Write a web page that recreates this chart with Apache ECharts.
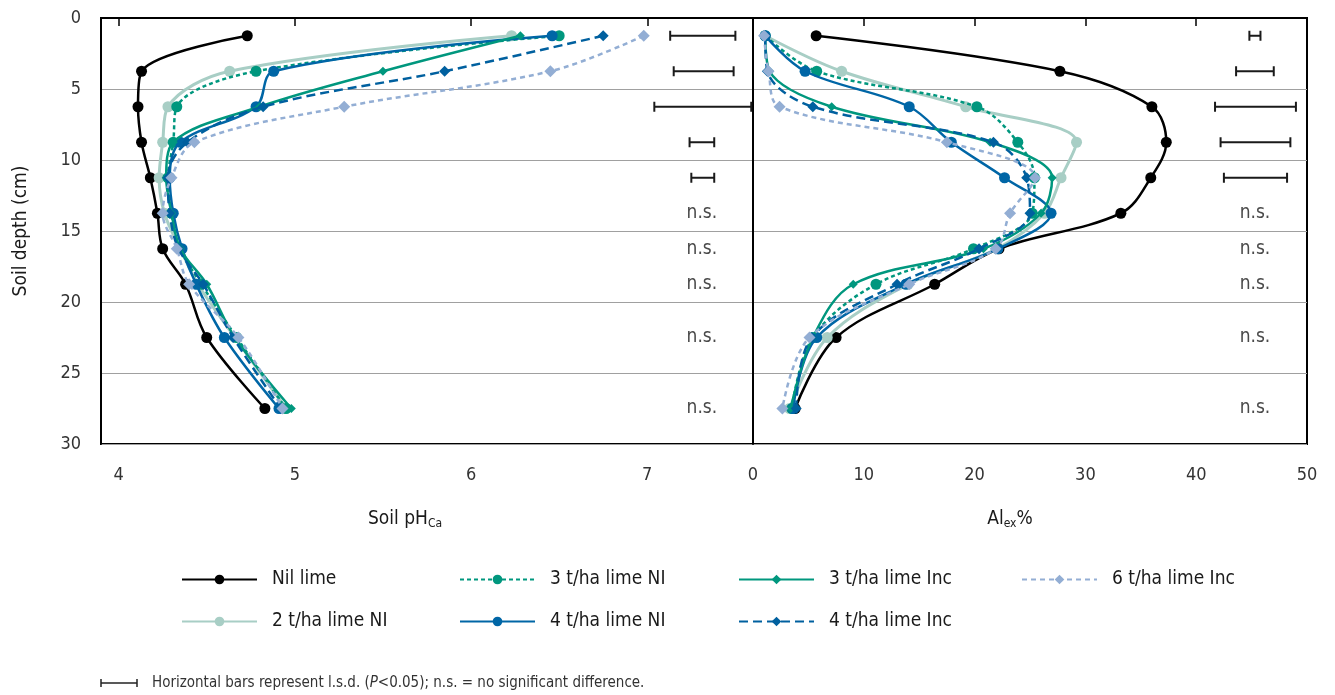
<!DOCTYPE html>
<html><head><meta charset="utf-8">
<script src="https://cdn.jsdelivr.net/npm/echarts@6/dist/echarts.min.js"></script>
<style>html,body{margin:0;padding:0;background:#fff}#c{width:1335px;height:695px}</style>
</head><body><div id="c"></div>
<script>
// ---------- DATA ----------
const depthCm = [1.25, 3.75, 6.25, 8.75, 11.25, 13.75, 16.25, 18.75, 22.5, 27.5];
const treatmentNames = ['Nil lime', '2 t/ha lime NI', '3 t/ha lime NI', '4 t/ha lime NI', '3 t/ha lime Inc', '4 t/ha lime Inc', '6 t/ha lime Inc'];

// Soil pHCa by depth
const phNil   = [4.73, 4.13, 4.11, 4.13, 4.18, 4.22, 4.25, 4.38, 4.50, 4.83];
const ph2NI   = [6.23, 4.63, 4.28, 4.25, 4.23, 4.26, 4.35, 4.45, 4.66, 4.95];
const ph3NI   = [6.50, 4.78, 4.33, 4.31, 4.28, 4.30, 4.35, 4.47, 4.67, 4.95];
const ph4NI   = [6.46, 4.88, 4.78, 4.35, 4.29, 4.31, 4.36, 4.44, 4.60, 4.91];
const ph3Inc  = [6.28, 5.50, 4.80, 4.31, 4.27, 4.30, 4.35, 4.50, 4.66, 4.98];
const ph4Inc  = [6.75, 5.85, 4.82, 4.39, 4.28, 4.29, 4.34, 4.48, 4.65, 4.92];
const ph6Inc  = [6.98, 6.45, 5.28, 4.43, 4.30, 4.25, 4.33, 4.40, 4.68, 4.93];

// Exchangeable Al % by depth
const alNil   = [5.7, 27.7, 36.0, 37.3, 35.9, 33.2, 22.2, 16.4, 7.5, 3.8];
const al2NI   = [1.1, 8.0, 19.2, 29.2, 27.8, 26.3, 22.0, 14.0, 6.7, 3.3];
const al3NI   = [1.1, 5.75, 20.2, 23.9, 25.4, 25.2, 19.9, 11.1, 5.4, 3.5];
const al4NI   = [1.1, 4.7, 14.1, 17.9, 22.7, 26.9, 22.1, 13.8, 5.75, 3.6];
const al3Inc  = [1.1, 1.5, 7.1, 21.4, 27.0, 26.0, 20.8, 9.05, 5.4, 3.4];
const al4Inc  = [1.1, 1.3, 5.4, 21.7, 24.7, 25.0, 20.4, 13.0, 5.3, 3.9];
const al6Inc  = [1.0, 1.4, 2.4, 17.5, 25.45, 23.2, 21.9, 14.1, 5.1, 2.65];

// l.s.d. bars (P<0.05)
const lsdDepth   = [1.25, 3.75, 6.25, 8.75, 11.25];
const lsdPhLeft  = [7.13, 7.15, 7.04, 7.24, 7.25];
const lsdPhRight = [7.50, 7.49, 7.59, 7.38, 7.38];
const lsdAlLeft  = [44.8, 43.6, 41.7, 42.2, 42.5];
const lsdAlRight = [45.8, 47.0, 49.0, 48.5, 48.2];
// n.s. labels
const nsDepth = [13.75, 16.25, 18.75, 22.5, 27.5];
const nsPhX = [7.31, 7.31, 7.31, 7.31, 7.31];
const nsAlX = [45.3, 45.3, 45.3, 45.3, 45.3];

const phTickValues = [4, 5, 6, 7];

const phData = [phNil, ph2NI, ph3NI, ph4NI, ph3Inc, ph4Inc, ph6Inc];
const alData = [alNil, al2NI, al3NI, al4NI, al3Inc, al4Inc, al6Inc];

// ---------- STYLE ----------
const FONT = "'Liberation Sans Narrow', 'DejaVu Sans Condensed', 'Arial Narrow', 'Roboto', sans-serif";
const seriesStyle = [
  {color: '#000000', symbol: 'circle',  size: 11, dash: 'solid', width: 2.5},
  {color: '#A8CEC5', symbol: 'circle',  size: 11, dash: 'solid', width: 3},
  {color: '#00977E', symbol: 'circle',  size: 11, dash: [4, 3],  width: 2.5},
  {color: '#0066A6', symbol: 'circle',  size: 11, dash: 'solid', width: 2.5},
  {color: '#00977E', symbol: 'diamond', size: 9,  dash: 'solid', width: 2.5},
  {color: '#00609F', symbol: 'diamond', size: 11, dash: [9, 5],  width: 2.5},
  {color: '#93AED4', symbol: 'diamond', size: 12, dash: [5, 4],  width: 2.5}
];
const legendPos = [[181, 570], [181, 612], [459, 570], [459, 612], [738, 570], [738, 612], [1021, 570]];

function lineSeries(values, idx, gridIdx) {
  const s = seriesStyle[idx];
  return {
    type: 'line', name: treatmentNames[idx],
    xAxisIndex: gridIdx, yAxisIndex: gridIdx,
    data: values.map((v, i) => [v, depthCm[i]]),
    smooth: 0.35,
    symbol: s.symbol, symbolSize: s.size,
    lineStyle: {color: s.color, width: s.width, type: s.dash},
    itemStyle: {color: s.color, borderWidth: 0},
    emphasis: {disabled: true},
    z: 3 + idx
  };
}

function lsdSeries(lefts, rights, gridIdx) {
  return {
    type: 'custom', xAxisIndex: gridIdx, yAxisIndex: gridIdx, silent: true,
    data: lsdDepth.map((d, i) => [lefts[i], rights[i], d]),
    encode: {x: [0, 1], y: 2},
    renderItem: (params, api) => {
      const a = api.coord([api.value(0), api.value(2)]);
      const b = api.coord([api.value(1), api.value(2)]);
      const h = 5, st = {stroke: '#1a1a1a', lineWidth: 2};
      return {type: 'group', children: [
        {type: 'line', shape: {x1: a[0], y1: a[1], x2: b[0], y2: b[1]}, style: st},
        {type: 'line', shape: {x1: a[0], y1: a[1] - h, x2: a[0], y2: a[1] + h}, style: st},
        {type: 'line', shape: {x1: b[0], y1: b[1] - h, x2: b[0], y2: b[1] + h}, style: st}
      ]};
    }
  };
}
function nsSeries(xs, gridIdx) {
  return {
    type: 'custom', xAxisIndex: gridIdx, yAxisIndex: gridIdx, silent: true,
    data: nsDepth.map((d, i) => [xs[i], d]),
    encode: {x: 0, y: 1},
    renderItem: (params, api) => {
      const c = api.coord([api.value(0), api.value(1)]);
      return {type: 'text', x: c[0], y: c[1], style: {text: 'n.s.', fill: '#4a4a4a', fontSize: 19, fontFamily: FONT, align: 'center', verticalAlign: 'middle'}};
    }
  };
}

const series = [];
phData.forEach((arr, i) => series.push(lineSeries(arr, i, 0)));
alData.forEach((arr, i) => series.push(lineSeries(arr, i, 1)));
series.push(lsdSeries(lsdPhLeft, lsdPhRight, 0));
series.push(lsdSeries(lsdAlLeft, lsdAlRight, 1));
series.push(nsSeries(nsPhX, 0));
series.push(nsSeries(nsAlX, 1));

const yCommon = {
  type: 'value', inverse: true, min: 0, max: 30, interval: 5,
  axisLine: {show: true, lineStyle: {color: '#000', width: 2}},
  axisTick: {show: false},
  splitLine: {show: true, lineStyle: {color: '#A0A0A0', width: 1.2}}
};

const option = {
  animation: false,
  backgroundColor: '#fff',
  textStyle: {fontFamily: FONT},
  grid: [
    {left: 101, top: 18, width: 652, height: 426, show: true, borderColor: '#000', borderWidth: 2, containLabel: false},
    {left: 753, top: 18, width: 554, height: 426, show: true, borderColor: '#000', borderWidth: 2, containLabel: false}
  ],
  xAxis: [
    {type: 'value', gridIndex: 0, min: 3.9, max: 7.6,
     axisLine: {show: true, lineStyle: {color: '#000', width: 2}},
     axisTick: {show: true, customValues: phTickValues, length: 8, lineStyle: {color: '#000', width: 1.5}},
     axisLabel: {customValues: phTickValues, fontSize: 18, color: '#333', margin: 22, fontFamily: FONT},
     splitLine: {show: false},
     name: 'Soil pH{sub|Ca}', nameLocation: 'middle', nameGap: 64,
     nameTextStyle: {fontSize: 19, color: '#1a1a1a', fontFamily: FONT, padding: [0, 44, 0, 0],
       rich: {sub: {fontSize: 12, fontFamily: FONT, color: '#1a1a1a', padding: [10, 0, 0, 0]}}}
    },
    {type: 'value', gridIndex: 1, min: 0, max: 50, interval: 10,
     axisLine: {show: true, lineStyle: {color: '#000', width: 2}},
     axisTick: {show: true, length: 8, lineStyle: {color: '#000', width: 1.5}},
     axisLabel: {fontSize: 18, color: '#333', margin: 22, fontFamily: FONT},
     splitLine: {show: false},
     name: 'Al{sub|ex}%', nameLocation: 'middle', nameGap: 64,
     nameTextStyle: {fontSize: 19, color: '#1a1a1a', fontFamily: FONT, padding: [0, 40, 0, 0],
       rich: {sub: {fontSize: 12, fontFamily: FONT, color: '#1a1a1a', padding: [10, 0, 0, 0]}}}
    }
  ],
  yAxis: [
    Object.assign({}, yCommon, {gridIndex: 0,
      axisLabel: {show: true, fontSize: 18, color: '#333', margin: 20, fontFamily: FONT},
      name: 'Soil depth (cm)', nameLocation: 'middle', nameGap: 70,
      nameTextStyle: {fontSize: 19, color: '#1a1a1a', fontFamily: FONT}}),
    Object.assign({}, yCommon, {gridIndex: 1, axisLabel: {show: false}})
  ],
  legend: treatmentNames.map((n, i) => ({
    data: [n], left: legendPos[i][0], top: legendPos[i][1], orient: 'horizontal',
    itemWidth: 75, itemHeight: 12, selectedMode: false, padding: 0,
    textStyle: {fontSize: 19, color: '#1a1a1a', fontFamily: FONT, padding: [0, 0, 0, 10]}
  })),
  graphic: [
    {type: 'line', shape: {x1: 101, y1: 683, x2: 137, y2: 683}, style: {stroke: '#222', lineWidth: 1.5}},
    {type: 'line', shape: {x1: 101, y1: 679, x2: 101, y2: 687}, style: {stroke: '#222', lineWidth: 1.5}},
    {type: 'line', shape: {x1: 137, y1: 679, x2: 137, y2: 687}, style: {stroke: '#222', lineWidth: 1.5}},
    {type: 'text', x: 152, y: 683, style: {
      text: 'Horizontal bars represent l.s.d. ({i|P}<0.05); n.s. = no significant difference.',
      fontSize: 15, fill: '#333', fontFamily: FONT, verticalAlign: 'middle',
      rich: {i: {fontStyle: 'italic', fontSize: 15, fontFamily: FONT, fill: '#333'}}
    }}
  ],
  series: series
};

const chart = echarts.init(document.getElementById('c'), null, {renderer: 'canvas'});
chart.setOption(option);
</script>
</body></html>
